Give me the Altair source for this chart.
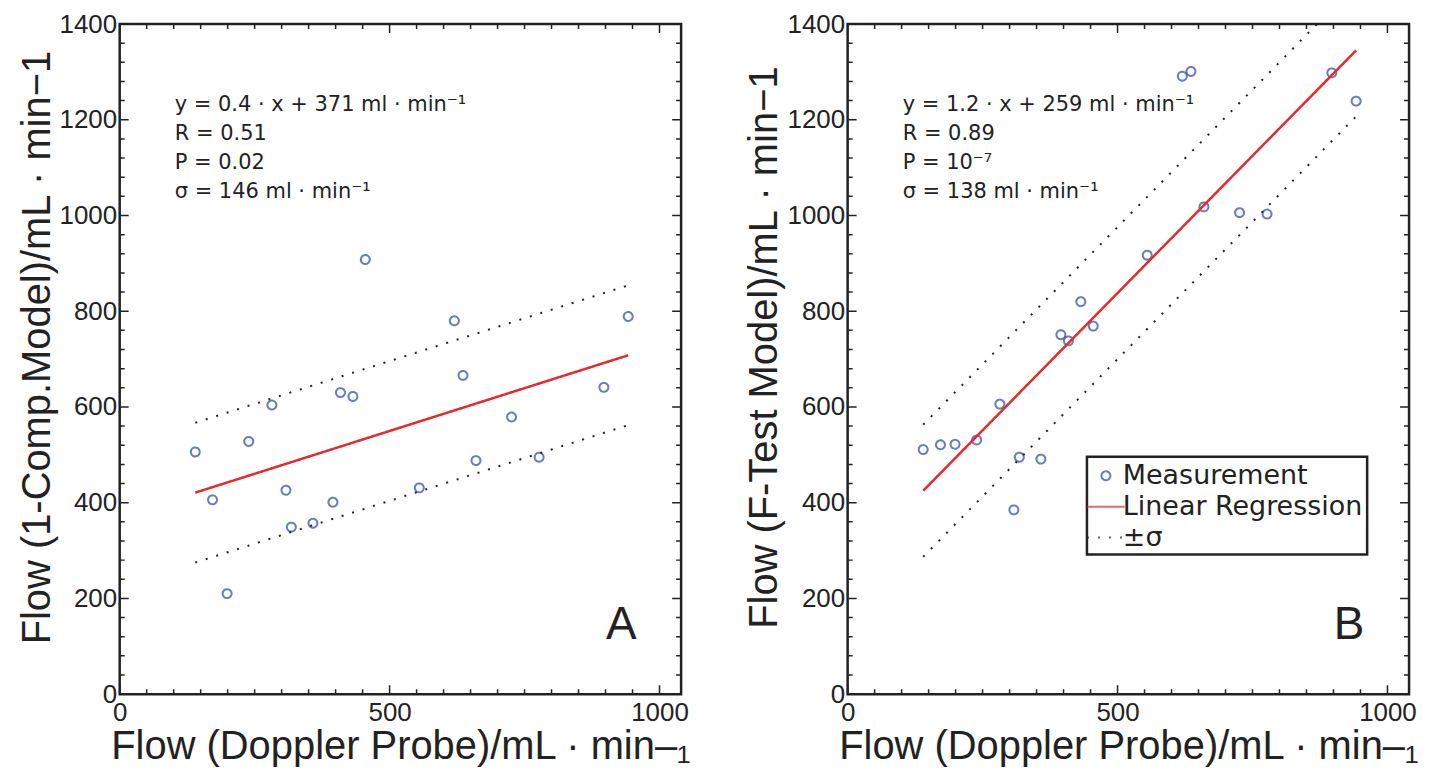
import altair as alt
import pandas as pd

# ---------------- data ----------------
doppler = [140, 172, 199, 239, 282, 308, 318, 358, 395, 409, 432, 455, 555, 620, 636, 660, 726, 777, 897, 942]
model_a = [506, 406, 210, 528, 604, 426, 349, 357, 401, 630, 622, 908, 431, 780, 666, 488, 579, 495, 641, 789]
model_b = [511, 521, 522, 531, 606, 385, 495, 491, 751, 738, 820, 769, 917, 1291, 1301, 1018, 1006, 1003, 1298, 1239]

fit_x = [140, 942]
fit_a = [421, 708]
fit_b = [425, 1345]
sigma_a = 146
sigma_b = 138

notes_a = ["y = 0.4 · x + 371 ml · min⁻¹", "R = 0.51", "P = 0.02", "σ = 146 ml · min⁻¹"]
notes_b = ["y = 1.2 · x + 259 ml · min⁻¹", "R = 0.89", "P = 10⁻⁷", "σ = 138 ml · min⁻¹"]

series = ["Measurement", "Linear Regression", "±σ"]
colors = ["#2a46a6", "#e8282b", "#222222"]

x_title = "Flow (Doppler Probe)/mL · min–₁"
y_title_a = "Flow (1-Comp.Model)/mL · min−1"
y_title_b = "Flow (F-Test Model)/mL · min−1"

x_major = [0, 500, 1000]
x_minor = [v for v in range(50, 1001, 50) if v % 500]
y_major = list(range(0, 1401, 200))
y_minor = [v for v in range(40, 1400, 40) if v % 200]

W, H = 563, 672
INK = "#222222"
FONT = "Liberation Sans"
circle_path = "M0.32,0A0.32,0.32,0,1,1,-0.32,0A0.32,0.32,0,1,1,0.32,0Z"
line_path = "M-1.35,0H1.35"
shapes = [circle_path, line_path, line_path]
dashes = [[1, 0], [1, 0], [2, 9]]

xs = alt.Scale(domain=[0, 1040], nice=False, zero=False)
ys = alt.Scale(domain=[0, 1400], nice=False)


def axis_x():
    return alt.Axis(orient="bottom", values=x_major, format="d", ticks=False, domain=False,
                    grid=False, labelFont=FONT, labelFontSize=26, labelColor=INK,
                    labelPadding=5, labelFlush=False, labelOverlap=False,
                    title=x_title, titleFont=FONT, titleFontSize=40,
                    titleFontWeight="normal", titleColor=INK, titlePadding=2)


def axis_y(title):
    return alt.Axis(orient="left", values=y_major, format="d", ticks=False, domain=False,
                    grid=False, labelFont=FONT, labelFontSize=26, labelColor=INK,
                    labelPadding=3, labelOverlap=False,
                    title=title, titleFont=FONT, titleFontSize=40, titleY=324,
                    titleFontWeight="normal", titleColor=INK, titlePadding=2)


def X(field):
    return alt.X(f"{field}:Q", scale=xs, axis=axis_x())


def Y(field, title):
    return alt.Y(f"{field}:Q", scale=ys, axis=axis_y(title))


def x_ticks(values, length):
    # inward tick marks on bottom and top edges, placed through the x scale
    return alt.Chart(pd.DataFrame({"x": values})).mark_rule(
        color=INK, strokeWidth=1.5, strokeDash=[length, H - 2 * length, length, 2000]
    ).encode(x=X("x"), y=alt.value(0), y2=alt.value(H))


def y_ticks(values, length, title):
    # inward tick marks on left and right edges, placed through the y scale
    return alt.Chart(pd.DataFrame({"y": values})).mark_rule(
        color=INK, strokeWidth=1.5, strokeDash=[length, W - 2 * length, length, 2000]
    ).encode(y=Y("y", title), x=alt.value(0), x2=alt.value(W))


def panel(model, fit_y, sigma, notes, letter, y_title, legend):
    pts = pd.DataFrame({"x": doppler, "y": model, "series": series[0]})
    fit = pd.DataFrame({"x": fit_x, "y": fit_y, "series": series[1]})
    band = pd.DataFrame({
        "x": fit_x + fit_x,
        "y": [v + sigma for v in fit_y] + [v - sigma for v in fit_y],
        "side": ["up", "up", "lo", "lo"],
        "series": series[2],
    })
    note = pd.DataFrame({"x": [102], "y": [1218], "t": ["\n".join(notes)]})
    lab = pd.DataFrame({"x": [929], "y": [116], "t": [letter]})

    color = alt.Color("series:N", scale=alt.Scale(domain=series, range=colors), legend=legend)
    shape = alt.Shape("series:N", scale=alt.Scale(domain=series, range=shapes), legend=legend)
    dash = alt.StrokeDash("series:N", scale=alt.Scale(domain=series, range=dashes), legend=legend)

    p = alt.Chart(pts).mark_point(filled=False, size=784, strokeWidth=2).encode(
        x=X("x"), y=Y("y", y_title), color=color, shape=shape, strokeDash=dash,
    )
    l = alt.Chart(fit).mark_line(strokeWidth=2.5, clip=True).encode(
        x=X("x"), y=Y("y", y_title), color=color, strokeDash=dash,
    )
    b = alt.Chart(band).mark_line(strokeWidth=2, clip=True).encode(
        x=X("x"), y=Y("y", y_title), color=color, strokeDash=dash, detail="side:N",
    )
    n = alt.Chart(note).mark_text(align="left", baseline="alphabetic", lineBreak="\n",
                                  lineHeight=29, font="DejaVu Sans", fontSize=21,
                                  color=INK).encode(
        x=X("x"), y=Y("y", y_title), text="t:N",
    )
    t = alt.Chart(lab).mark_text(align="center", baseline="alphabetic", font=FONT,
                                 fontSize=46, color=INK).encode(
        x=X("x"), y=Y("y", y_title), text="t:N",
    )
    ticks = [x_ticks(x_major, 9), x_ticks(x_minor, 5),
             y_ticks(y_major, 9, y_title), y_ticks(y_minor, 5, y_title)]
    return alt.layer(p, l, b, n, t, *ticks).properties(width=W, height=H)


legend_b = alt.Legend(title=None, orient="none", legendX=240, legendY=434, direction="vertical",
                      strokeColor=INK, fillColor="white", padding=4, symbolSize=784,
                      symbolStrokeWidth=2, labelFont="DejaVu Sans", labelFontSize=27,
                      labelColor=INK, labelOffset=2, rowPadding=3, labelLimit=400)

left = panel(model_a, fit_a, sigma_a, notes_a, "A", y_title_a, None)
right = panel(model_b, fit_b, sigma_b, notes_b, "B", y_title_b, legend_b)

chart = alt.hconcat(left, right, spacing=50).resolve_scale(
    color="independent", shape="independent", strokeDash="independent"
).resolve_legend(
    color="independent", shape="independent", strokeDash="independent"
).properties(
    padding={"left": 7, "top": 0, "right": 5, "bottom": 5}
).configure_view(stroke=INK, strokeWidth=2.5).configure_legend(strokeWidth=2.5)

chart.save("out.html", embed_options={"renderer": "svg", "actions": False})
